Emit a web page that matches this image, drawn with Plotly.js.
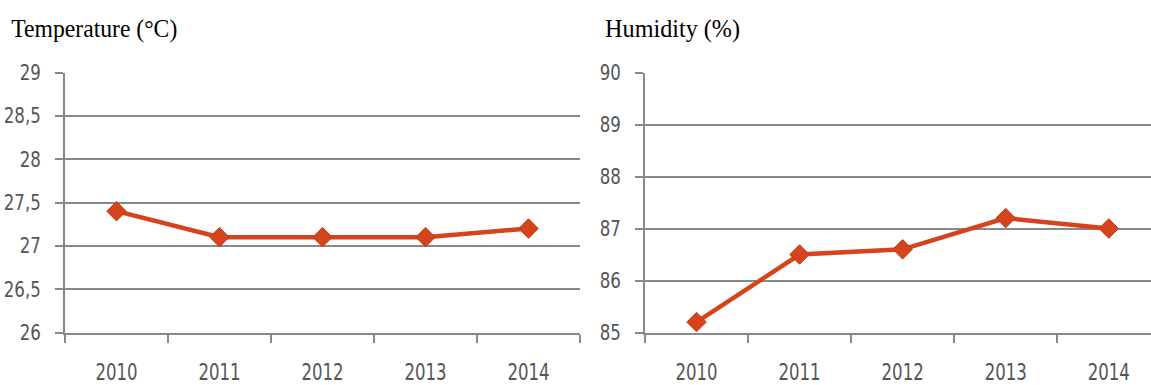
<!DOCTYPE html>
<html>
<head>
<meta charset="utf-8">
<script src="https://cdn.plot.ly/plotly-3.0.1.min.js"></script>
<style>
  html, body { margin: 0; padding: 0; background: #ffffff; }
  #chart { width: 1151px; height: 385px; }
</style>
</head>
<body>
<div id="chart"></div>
<script>
// Yearly climate averages
const years = ['2010', '2011', '2012', '2013', '2014'];
const temperature = [27.4, 27.1, 27.1, 27.1, 27.2];
const humidity = [85.2, 86.5, 86.6, 87.2, 87.0];
const tempTicks = [26, 26.5, 27, 27.5, 28, 28.5, 29];
const humTicks = [85, 86, 87, 88, 89, 90];
const panelTitles = ['Temperature (°C)', 'Humidity (%)'];

const W = 1151, H = 385;
const lineColor = '#d6441d';
const gridColor = '#888888';
const labelFamily = 'Liberation Sans Narrow, DejaVu Sans Condensed, Arial Narrow, sans-serif';
const xTickFont = { family: labelFamily, size: 23, color: '#555555' };
const yTickFont = { family: labelFamily, size: 21, color: '#555555' };

function series(y, xa, ya) {
  return {
    type: 'scatter', mode: 'lines+markers',
    x: years, y: y, xaxis: xa, yaxis: ya,
    line: { color: lineColor, width: 4.5 },
    marker: { symbol: 'diamond', size: 15, color: lineColor, line: { color: '#c03a15', width: 1 } },
    hoverinfo: 'skip', showlegend: false
  };
}

function xAxis(d0, d1, r1, anchor) {
  return {
    type: 'category', domain: [d0 / W, d1 / W], range: [-0.5, r1], anchor: anchor,
    showline: true, linecolor: gridColor, linewidth: 2,
    ticks: 'outside', tickson: 'boundaries', ticklen: 8, tickwidth: 1.5, tickcolor: gridColor,
    ticklabelstandoff: 18, tickfont: xTickFont, showgrid: false, fixedrange: true
  };
}

function yAxis(ticks, anchor) {
  return {
    domain: [(H - 332.5) / H, (H - 72.5) / H], anchor: anchor,
    range: [ticks[0], ticks[ticks.length - 1]],
    tickvals: ticks, tickformat: ',.1~f',
    showline: true, linecolor: gridColor, linewidth: 2,
    ticks: 'outside', ticklen: 8, tickwidth: 2, tickcolor: gridColor,
    ticklabelstandoff: 10, tickfont: yTickFont,
    showgrid: true, gridcolor: gridColor, gridwidth: 2,
    zeroline: false, fixedrange: true
  };
}

const data = [
  series(temperature, 'x', 'y'),
  series(humidity, 'x2', 'y2')
];

const titleFont = { family: 'Liberation Serif, Times New Roman, serif', size: 26, color: '#000000' };

const layout = {
  width: W, height: H,
  margin: { l: 0, r: 0, t: 0, b: 0 },
  paper_bgcolor: '#ffffff', plot_bgcolor: '#ffffff',
  separators: ', ',
  xaxis: xAxis(65, 580, 4.5, 'y'),
  yaxis: yAxis(tempTicks, 'x'),
  xaxis2: xAxis(645, 1151, 4.41, 'y2'),
  yaxis2: yAxis(humTicks, 'x2'),
  annotations: [
    { text: panelTitles[0], xref: 'paper', yref: 'paper', x: 95 / W, y: (H - 28) / H,
      xanchor: 'center', yanchor: 'middle', showarrow: false, font: titleFont },
    { text: panelTitles[1], xref: 'paper', yref: 'paper', x: 672 / W, y: (H - 28) / H,
      xanchor: 'center', yanchor: 'middle', showarrow: false, font: titleFont }
  ]
};

// Condensed lettering: titles get a fixed width, tick labels a narrowing factor
const titleWidths = [166, 135];
const xLabelSqueeze = 0.8;
const yLabelSqueeze = 0.88;

function squeeze(el, len) {
  el.setAttribute('textLength', len);
  el.setAttribute('lengthAdjust', 'spacingAndGlyphs');
}

Plotly.newPlot('chart', data, layout, { staticPlot: true, displayModeBar: false }).then(function (gd) {
  gd.querySelectorAll('.annotation-text').forEach(function (t, i) {
    squeeze(t, titleWidths[i]);
  });
  gd.querySelectorAll('g.xtick text, g.x2tick text').forEach(function (t) {
    squeeze(t, t.getComputedTextLength() * xLabelSqueeze);
  });
  gd.querySelectorAll('g.ytick text, g.y2tick text').forEach(function (t) {
    squeeze(t, t.getComputedTextLength() * yLabelSqueeze);
  });
});
</script>
</body>
</html>
